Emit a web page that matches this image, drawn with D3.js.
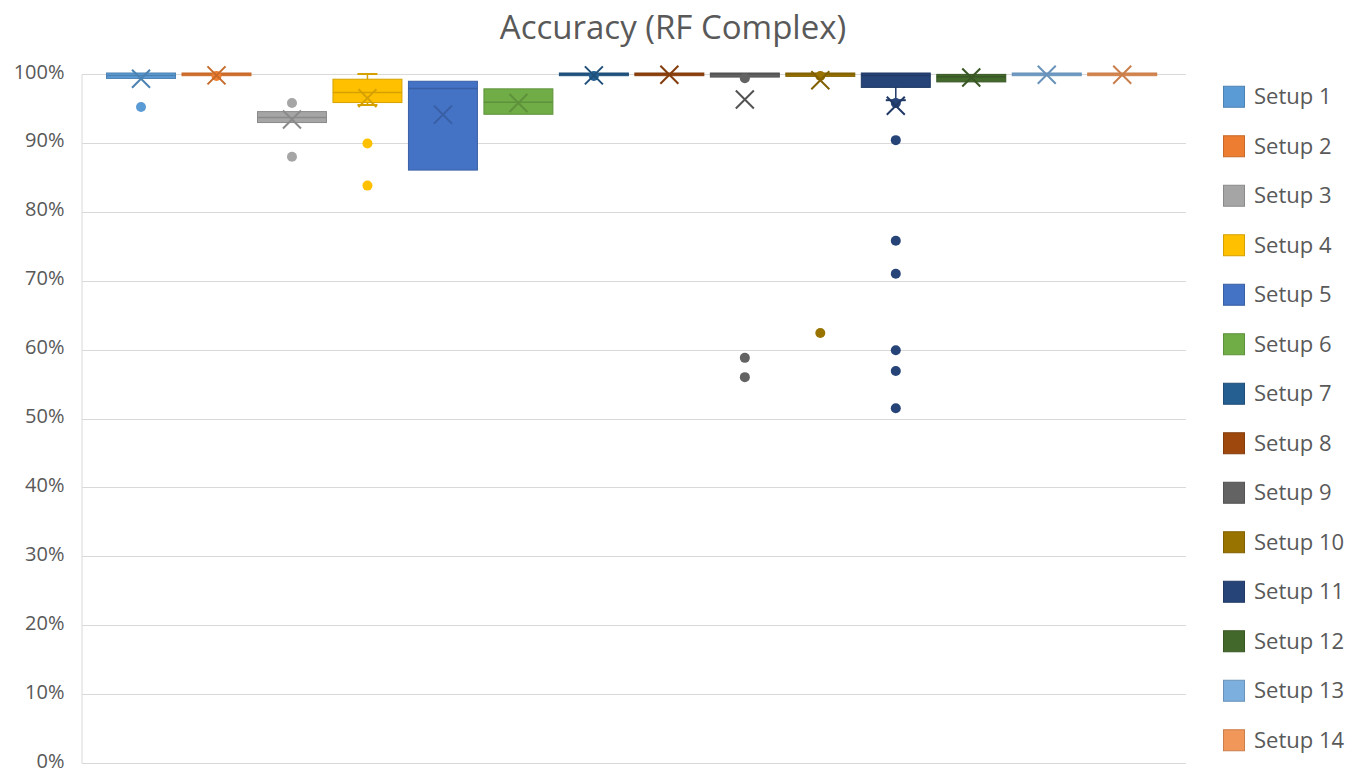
<!DOCTYPE html>
<html>
<head>
<meta charset="utf-8">
<script src="https://cdn.jsdelivr.net/npm/d3@7"></script>
<style>
  html, body { margin: 0; padding: 0; background: #fff; }
  svg { display: block; font-family: "Open Sans", "Noto Sans", sans-serif; }
</style>
</head>
<body>
<svg id="chart" width="1346" height="773"></svg>
<script>
// Series names and colours
const setups = ["Setup 1","Setup 2","Setup 3","Setup 4","Setup 5","Setup 6","Setup 7",
                "Setup 8","Setup 9","Setup 10","Setup 11","Setup 12","Setup 13","Setup 14"];
const colors = ["#5B9BD5","#ED7D31","#A5A5A5","#FFC000","#4472C4","#70AD47","#255E91",
                "#9E480E","#636363","#997300","#264478","#43682B","#7CAFDD","#F1975A"];

// Box statistics per setup (accuracy, %)
const whiskerLow  = [99.5, 99.9, 93.1, 95.5, 86.2, 94.3, 99.9, 99.9, 99.7, 99.8, 96.2, 99.0, 99.9, 99.9];
const q1          = [99.5, 99.9, 93.1, 96.0, 86.2, 94.3, 99.9, 99.9, 99.7, 99.8, 98.2, 99.0, 99.9, 99.9];
const median      = [99.8, 100,  93.7, 97.3, 97.9, 95.9, 100,  100,  100,  100,  99.8, 99.6, 100,  100 ];
const q3          = [100,  100,  94.4, 99.1, 98.8, 97.7, 100,  100,  100,  100,  100,  99.8, 100,  100 ];
const whiskerHigh = [100,  100,  94.4, 100,  98.8, 97.7, 100,  100,  100,  100,  100,  99.8, 100,  100 ];
const means       = [99.3, 99.8, 93.4, 96.5, 94.1, 95.8, 99.8, 99.9, 96.3, 99.1, 95.4, 99.5, 99.9, 99.9];
const outliers    = [
  [95.2],
  [99.7],
  [95.8, 88.0],
  [89.9, 83.8],
  [],
  [],
  [99.7],
  [],
  [99.4, 58.8, 56.0],
  [99.7, 62.4],
  [95.8, 90.4, 75.8, 71.0, 59.9, 56.9, 51.5],
  [],
  [],
  []
];
const yTicks = [0, 10, 20, 30, 40, 50, 60, 70, 80, 90, 100];
const title = "Accuracy (RF Complex)";

const svg = d3.select("#chart");
const W = 1346, H = 773;
const plot = { left: 82, right: 1186, top: 74, bottom: 763 };
const textColor = "#595959";
const gridColor = "#D9D9D9";

svg.append("rect").attr("width", W).attr("height", H).attr("fill", "#fff");

const y = d3.scaleLinear().domain([0, 100]).range([plot.bottom, plot.top]);
const x = d3.scaleBand().domain(setups).range([plot.left, plot.right])
  .paddingInner(0.073).paddingOuter(0.35).align(0.455);

// Title
svg.append("text")
  .attr("x", 673).attr("y", 39)
  .attr("text-anchor", "middle")
  .attr("font-size", 33)
  .attr("fill", textColor)
  .text(title);

// Gridlines
svg.append("g").selectAll("line").data(yTicks).join("line")
  .attr("x1", plot.left).attr("x2", plot.right)
  .attr("y1", d => Math.round(y(d)) + 0.5).attr("y2", d => Math.round(y(d)) + 0.5)
  .attr("stroke", gridColor).attr("stroke-width", 1);

// Y axis
const yAxis = d3.axisLeft(y).tickValues(yTicks).tickFormat(d => d + "%").tickSize(0).tickPadding(17);
const gy = svg.append("g").attr("transform", `translate(${plot.left - 0.5},0)`).call(yAxis);
gy.select(".domain").attr("stroke", gridColor);
gy.selectAll("text").attr("font-size", 20).attr("fill", textColor)
  .attr("font-family", "'Open Sans', sans-serif").attr("dy", "0.2em");

const data = setups.map((s, i) => ({
  name: s, color: colors[i],
  dark: d3.color(colors[i]).darker(0.5).formatHex(),
  lo: whiskerLow[i], q1: q1[i], med: median[i], q3: q3[i], hi: whiskerHigh[i],
  mean: means[i], out: outliers[i]
}));

const g = svg.append("g");
const groups = g.selectAll("g.box").data(data).join("g").attr("class", "box")
  .attr("transform", d => `translate(${x(d.name)},0)`);
const bw = x.bandwidth();
const capW = 20;

// Whiskers
groups.append("line")
  .attr("x1", bw / 2).attr("x2", bw / 2)
  .attr("y1", d => y(d.hi)).attr("y2", d => y(d.q3))
  .attr("stroke", d => d.dark).attr("stroke-width", 1.5);
groups.append("line")
  .attr("x1", bw / 2).attr("x2", bw / 2)
  .attr("y1", d => y(d.q1)).attr("y2", d => y(d.lo))
  .attr("stroke", d => d.dark).attr("stroke-width", 1.5);
groups.filter(d => d.hi > d.q3).append("line")
  .attr("x1", bw / 2 - capW / 2).attr("x2", bw / 2 + capW / 2)
  .attr("y1", d => y(d.hi)).attr("y2", d => y(d.hi))
  .attr("stroke", d => d.dark).attr("stroke-width", 2);
groups.filter(d => d.lo < d.q1).append("line")
  .attr("x1", bw / 2 - capW / 2).attr("x2", bw / 2 + capW / 2)
  .attr("y1", d => y(d.lo)).attr("y2", d => y(d.lo))
  .attr("stroke", d => d.dark).attr("stroke-width", 2);

// Boxes
groups.append("rect")
  .attr("x", 0.5).attr("width", bw - 1)
  .attr("y", d => y(d.q3) - 1)
  .attr("height", d => Math.max(y(d.q1) - y(d.q3) + 2, 2.5))
  .attr("fill", d => d.color)
  .attr("stroke", d => d.dark).attr("stroke-width", 1);

// Median lines
groups.append("line")
  .attr("x1", 0.5).attr("x2", bw - 0.5)
  .attr("y1", d => y(d.med)).attr("y2", d => y(d.med))
  .attr("stroke", d => d.dark).attr("stroke-width", 1.5);

// Outlier points
groups.selectAll("circle").data(d => d.out.map(v => ({ v, c: d.color }))).join("circle")
  .attr("cx", bw / 2).attr("cy", d => y(d.v)).attr("r", 5)
  .attr("fill", d => d.c);

// Mean markers (X)
const ms = 9;
groups.append("path")
  .attr("d", d => {
    const cx = bw / 2, cy = y(d.mean);
    return `M${cx - ms},${cy - ms}L${cx + ms},${cy + ms}M${cx - ms},${cy + ms}L${cx + ms},${cy - ms}`;
  })
  .attr("stroke", d => d.dark).attr("stroke-width", 2).attr("fill", "none");

// Legend
const ly = d3.scaleBand().domain(setups).range([72, 765]);
const leg = svg.append("g").selectAll("g").data(data).join("g")
  .attr("transform", d => `translate(1223,${ly(d.name) + ly.bandwidth() / 2})`);
leg.append("rect")
  .attr("x", 0.5).attr("y", -10.5).attr("width", 21).attr("height", 21)
  .attr("fill", d => d.color).attr("stroke", d => d.dark).attr("stroke-width", 1);
leg.append("text")
  .attr("x", 31).attr("y", 0).attr("dy", "0.35em")
  .attr("font-size", 22).attr("fill", textColor)
  .text(d => d.name);
</script>
</body>
</html>
